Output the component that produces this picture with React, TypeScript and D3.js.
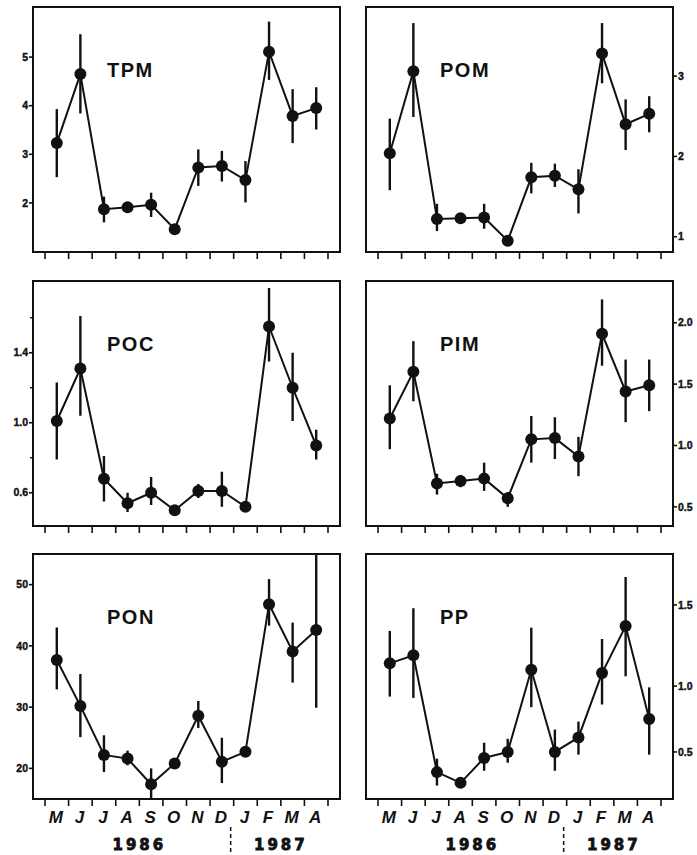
import * as d3 from "d3";

// months May 1986 .. April 1987
const months = ["M", "J", "J", "A", "S", "O", "N", "D", "J", "F", "M", "A"];
const years = [
  { label: "1986", from: 0, to: 8 },
  { label: "1987", from: 8, to: 12 },
];

const tpmMean = [3.23, 4.65, 1.87, 1.91, 1.96, 1.46, 2.73, 2.76, 2.47, 5.11, 3.79, 3.95];
const tpmLow = [2.53, 3.84, 1.6, 1.85, 1.71, 1.4, 2.35, 2.44, 2.01, 4.53, 3.23, 3.51];
const tpmHigh = [3.93, 5.47, 2.13, 1.97, 2.21, 1.52, 3.1, 3.07, 2.86, 5.73, 4.34, 4.38];

const pomMean = [2.04, 3.06, 1.22, 1.23, 1.24, 0.95, 1.74, 1.76, 1.59, 3.28, 2.4, 2.53];
const pomLow = [1.58, 2.49, 1.07, 1.18, 1.1, 0.9, 1.54, 1.62, 1.29, 2.91, 2.08, 2.3];
const pomHigh = [2.47, 3.66, 1.41, 1.28, 1.41, 1.0, 1.92, 1.91, 1.84, 3.66, 2.71, 2.75];

const pocMean = [1.01, 1.31, 0.68, 0.54, 0.6, 0.5, 0.61, 0.61, 0.52, 1.55, 1.2, 0.87];
const pocLow = [0.79, 1.04, 0.55, 0.49, 0.53, 0.47, 0.57, 0.52, 0.5, 1.35, 1.01, 0.79];
const pocHigh = [1.23, 1.61, 0.81, 0.6, 0.69, 0.53, 0.65, 0.72, 0.54, 1.77, 1.4, 0.96];

const pimMean = [1.22, 1.6, 0.69, 0.71, 0.73, 0.57, 1.05, 1.06, 0.91, 1.91, 1.44, 1.49];
const pimLow = [0.97, 1.36, 0.6, 0.66, 0.63, 0.5, 0.86, 0.89, 0.75, 1.65, 1.19, 1.28];
const pimHigh = [1.49, 1.85, 0.77, 0.76, 0.86, 0.62, 1.24, 1.23, 1.07, 2.19, 1.7, 1.7];

const ponMean = [37.7, 30.2, 22.2, 21.6, 17.4, 20.8, 28.6, 21.1, 22.7, 46.8, 39.1, 42.6];
const ponLow = [32.9, 25.1, 19.4, 20.5, 15.1, 20.0, 26.6, 17.6, 22.0, 43.3, 34.0, 29.9];
const ponHigh = [43.0, 35.4, 25.4, 22.9, 20.0, 21.6, 31.0, 25.0, 23.4, 50.9, 43.8, 60];

const ppMean = [1.14, 1.19, 0.35, 0.27, 0.455, 0.5, 1.1, 0.5, 0.61, 1.08, 1.37, 0.75];
const ppLow = [0.92, 0.91, 0.25, 0.25, 0.36, 0.42, 0.84, 0.36, 0.48, 0.86, 1.06, 0.48];
const ppHigh = [1.34, 1.48, 0.45, 0.3, 0.57, 0.6, 1.36, 0.67, 0.73, 1.29, 1.67, 0.99];

const panels = [
  { name: "TPM", col: 0, row: 0, mean: tpmMean, low: tpmLow, high: tpmHigh,
    domain: [0.99, 6.03], ticks: [2, 3, 4, 5], minor: [], fmt: "d" },
  { name: "POM", col: 1, row: 0, mean: pomMean, low: pomLow, high: pomHigh,
    domain: [0.81, 3.86], ticks: [1, 2, 3], minor: [], fmt: "d" },
  { name: "POC", col: 0, row: 1, mean: pocMean, low: pocLow, high: pocHigh,
    domain: [0.41, 1.81], ticks: [0.6, 1.0, 1.4], minor: [0.8, 1.2, 1.6], fmt: ".1f" },
  { name: "PIM", col: 1, row: 1, mean: pimMean, low: pimLow, high: pimHigh,
    domain: [0.344, 2.34], ticks: [0.5, 1.0, 1.5, 2.0], minor: [], fmt: ".1f" },
  { name: "PON", col: 0, row: 2, mean: ponMean, low: ponLow, high: ponHigh,
    domain: [15, 55], ticks: [20, 30, 40, 50], minor: [], fmt: "d" },
  // the printed PP axis is not evenly spaced, so a piecewise scale is used
  { name: "PP", col: 1, row: 2, mean: ppMean, low: ppLow, high: ppHigh,
    domain: [0.15, 0.5, 1.0, 1.5, 1.81], stops: [1, 0.808, 0.539, 0.208, 0],
    ticks: [0.5, 1.0, 1.5], minor: [], fmt: ".1f" },
];

const W = 697;
const H = 855;
const colX = [33, 366];
const rowY = [7, 281, 554];
const boxW = 307;
const boxH = 245;
const pad = 12;

const labelFont = "'Liberation Sans Narrow', 'Liberation Sans', Arial, sans-serif";

function Panel({ p }) {
  const x0 = colX[p.col];
  const y0 = rowY[p.row];
  const x = d3.scaleBand().domain(d3.range(12)).range([x0 + pad, x0 + boxW - pad]);
  const y = d3.scaleLinear()
    .domain(p.domain)
    .range(p.stops ? p.stops.map((s) => y0 + s * boxH) : [y0 + boxH, y0])
    .clamp(true);
  const cx = (i) => x(i) + x.bandwidth() / 2;
  const line = d3.line().x((d, i) => cx(i)).y((d) => y(d));
  const fmt = d3.format(p.fmt);
  const right = p.col === 1;
  const axisX = right ? x0 + boxW : x0;
  const dir = right ? 1 : -1;
  const bottom = p.row === 2;

  return (
    <g>
      <rect x={x0} y={y0} width={boxW} height={boxH} fill="none" stroke="#111" strokeWidth={2} />
      {/* x ticks at month boundaries */}
      {d3.range(13).map((i) => {
        const tx = x0 + pad + i * x.step();
        return <line key={i} x1={tx} x2={tx} y1={y0 + boxH} y2={y0 + boxH + 7} stroke="#111" strokeWidth={1.6} />;
      })}
      {/* y axis */}
      {p.ticks.map((t) => (
        <g key={t}>
          <line x1={axisX} x2={axisX + dir * 4} y1={y(t)} y2={y(t)} stroke="#111" strokeWidth={1.6} />
          <text x={axisX + dir * 5} y={y(t)} dy="0.35em" textAnchor={right ? "start" : "end"}
            fontFamily={labelFont} fontWeight="bold" fontSize={10.5} stroke="#111" strokeWidth={0.4}
            fill="#111">{fmt(t)}</text>
        </g>
      ))}
      {p.minor.map((t) => (
        <line key={t} x1={axisX} x2={axisX + dir * 3} y1={y(t)} y2={y(t)} stroke="#111" strokeWidth={1.4} />
      ))}
      <text x={x0 + 74} y={y0 + 70} fontFamily="'Liberation Sans', Arial, sans-serif" fontWeight="bold"
        fontSize={20} letterSpacing={1.5} fill="#111">{p.name}</text>
      {/* error bars */}
      {p.mean.map((m, i) => (
        <line key={i} x1={cx(i)} x2={cx(i)} y1={y(p.low[i])} y2={y(p.high[i])} stroke="#111" strokeWidth={2.4} />
      ))}
      <path d={line(p.mean)} fill="none" stroke="#111" strokeWidth={2} />
      {p.mean.map((m, i) => (
        <circle key={i} cx={cx(i)} cy={y(m)} r={6} fill="#111" />
      ))}
      {bottom && (
        <g>
          {months.map((mo, i) => (
            <text key={i} x={cx(i) - 1} y={823} textAnchor="middle" fontFamily="'Liberation Sans', Arial, sans-serif"
              fontWeight="bold" fontStyle="italic" fontSize={17} fill="#111">{mo}</text>
          ))}
          {years.map((yr) => (
            <text key={yr.label} x={x0 + pad + ((yr.from + yr.to) / 2) * x.step()} y={850} textAnchor="middle"
              fontFamily="'DejaVu Sans', sans-serif" fontWeight="bold" fontSize={15} letterSpacing={3}
              stroke="#111" strokeWidth={0.8} fill="#111">{yr.label}</text>
          ))}
          <line x1={x0 + pad + 8 * x.step() - 3} x2={x0 + pad + 8 * x.step() - 3} y1={827} y2={H}
            stroke="#111" strokeWidth={1.5} strokeDasharray="4 3" />
        </g>
      )}
    </g>
  );
}

export default function App() {
  return (
    <svg width={W} height={H} style={{ position: "absolute", left: 0, top: 0, background: "#fff" }}>
      <rect width={W} height={H} fill="#fff" />
      {panels.map((p) => <Panel key={p.name} p={p} />)}
    </svg>
  );
}
